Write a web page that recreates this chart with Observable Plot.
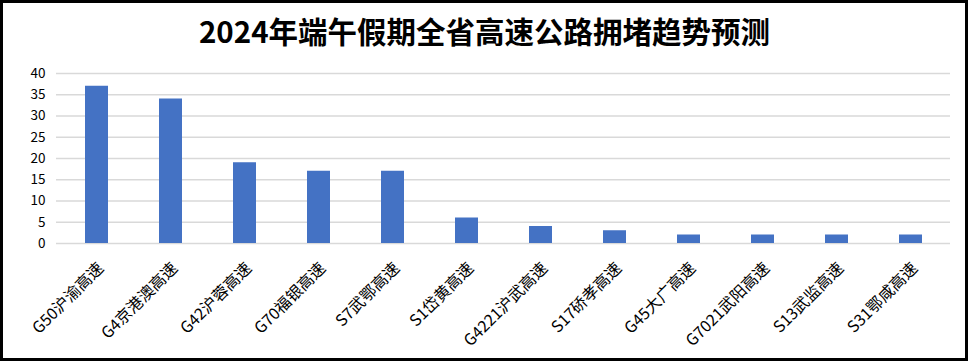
<!DOCTYPE html>
<html>
<head>
<meta charset="utf-8">
<script src="https://cdn.jsdelivr.net/npm/d3@7"></script>
<script src="https://cdn.jsdelivr.net/npm/@observablehq/plot@0.6"></script>
<style>
  html, body { margin: 0; padding: 0; background: #fff; overflow: hidden; }
  #wrap { position: absolute; left: 0; top: 0; width: 969px; height: 363px; }
  #title { height: 60px; box-sizing: border-box; padding-top: 2px; line-height: 56px; text-align: center;
           font-family: "Noto Sans CJK SC", "Noto Sans", sans-serif; font-weight: bold; font-size: 29.5px; color: #000; }
  #frame { position: absolute; left: 0; top: 0; width: 968px; height: 361px; box-sizing: border-box;
           border: 3px solid #000; pointer-events: none; z-index: 5; }
</style>
</head>
<body>
<div id="wrap">
  <div id="title">2024年端午假期全省高速公路拥堵趋势预测</div>
  <div id="chart"></div>
</div>
<div id="frame"></div>
<script>
const categories = ["G50沪渝高速","G4京港澳高速","G42沪蓉高速","G70福银高速","S7武鄂高速","S1岱黄高速","G4221沪武高速","S17硚孝高速","G45大广高速","G7021武阳高速","S13武监高速","S31鄂咸高速"];
const values = [37, 34, 19, 17, 17, 6, 4, 3, 2, 2, 2, 2];
const yTicks = [0, 5, 10, 15, 20, 25, 30, 35, 40];

const data = categories.map((c, i) => ({name: c, value: values[i]}));

const chart = Plot.plot({
  width: 969,
  height: 303,
  marginTop: 13,
  marginBottom: 120,
  marginLeft: 56,
  marginRight: 19,
  style: {background: "transparent", fontFamily: "\"Noto Sans CJK SC\", \"Noto Sans\", sans-serif", color: "#000"},
  x: {domain: categories, paddingInner: 0.69, paddingOuter: 0.345, align: 0.5, label: null},
  y: {domain: [0, 40], label: null},
  marks: [
    Plot.gridY(yTicks, {stroke: "#d9d9d9", strokeOpacity: 1, strokeWidth: 1.3}),
    Plot.barY(data, {x: "name", y: "value", fill: "#4472C4"}),
    Plot.axisY(yTicks, {tickSize: 0, tickPadding: 11, fontSize: 13.5, label: null}),
    Plot.axisX({tickSize: 0, tickPadding: 22, dx: 4, tickRotate: -45, fontSize: 16, label: null})
  ]
});
document.getElementById("chart").appendChild(chart);
</script>
</body>
</html>
